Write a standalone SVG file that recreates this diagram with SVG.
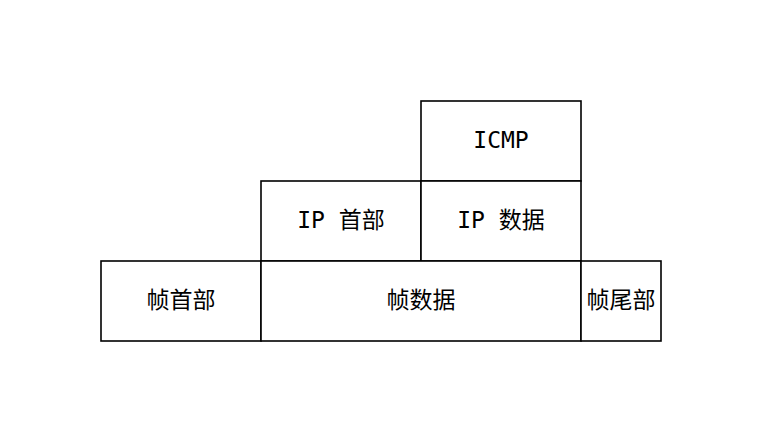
<svg xmlns="http://www.w3.org/2000/svg" width="762" height="442" viewBox="0 0 762 442">
<style>
.box{fill:#fff;stroke:#000;stroke-width:1.6}
.t{font-family:"DejaVu Sans Mono","Noto Sans CJK SC",monospace;font-size:23px;fill:#000;text-anchor:middle;dominant-baseline:central}
</style>
<rect width="762" height="442" fill="#fff"/>
<g id="icmp"><rect class="box" x="421" y="101" width="160" height="80"/><text class="t" x="501" y="140">ICMP</text></g>
<g id="ip-header"><rect class="box" x="261" y="181" width="160" height="80"/><text class="t" x="341" y="220">IP 首部</text></g>
<g id="ip-data"><rect class="box" x="421" y="181" width="160" height="80"/><text class="t" x="501" y="220">IP 数据</text></g>
<g id="frame-header"><rect class="box" x="101" y="261" width="160" height="80"/><text class="t" x="181" y="300">帧首部</text></g>
<g id="frame-data"><rect class="box" x="261" y="261" width="320" height="80"/><text class="t" x="421" y="300">帧数据</text></g>
<g id="frame-trailer"><rect class="box" x="581" y="261" width="80" height="80"/><text class="t" x="621" y="300">帧尾部</text></g>
<g id="connectors"></g>
</svg>
